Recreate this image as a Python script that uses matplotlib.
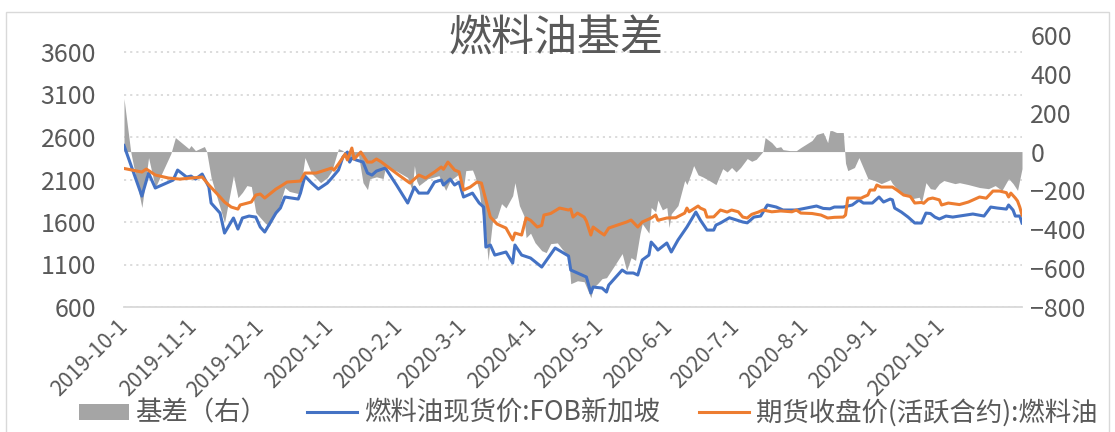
import matplotlib
matplotlib.use("Agg")
import matplotlib.pyplot as plt
from matplotlib.patches import Patch, Rectangle
from matplotlib.lines import Line2D
import pandas as pd

plt.rcParams['font.family'] = ['Noto Sans CJK SC', 'DejaVu Sans']

# ---- data ----
spot_dates = [
    "2019-10-01", "2019-10-09", "2019-10-12", "2019-10-15", "2019-10-23", "2019-10-25", "2019-10-29",
    "2019-10-31", "2019-11-02", "2019-11-05", "2019-11-08", "2019-11-09", "2019-11-13", "2019-11-15",
    "2019-11-19", "2019-11-21", "2019-11-23", "2019-11-26", "2019-11-29", "2019-12-01", "2019-12-03",
    "2019-12-08", "2019-12-10", "2019-12-12", "2019-12-15", "2019-12-18", "2019-12-19", "2019-12-21",
    "2019-12-24", "2019-12-27", "2019-12-31", "2020-01-02", "2020-01-05", "2020-01-07", "2020-01-09",
    "2020-01-10", "2020-01-11", "2020-01-13", "2020-01-16", "2020-01-18", "2020-01-20", "2020-01-22",
    "2020-01-26", "2020-01-31", "2020-02-05", "2020-02-08", "2020-02-10", "2020-02-14", "2020-02-17",
    "2020-02-20", "2020-02-21", "2020-02-24", "2020-02-26", "2020-02-28", "2020-03-01", "2020-03-05",
    "2020-03-06", "2020-03-08", "2020-03-10", "2020-03-11", "2020-03-13", "2020-03-15", "2020-03-20",
    "2020-03-23", "2020-03-24", "2020-03-27", "2020-03-31", "2020-04-05", "2020-04-11", "2020-04-14",
    "2020-04-17", "2020-04-18", "2020-04-21", "2020-04-25", "2020-04-27", "2020-04-28", "2020-05-02",
    "2020-05-04", "2020-05-05", "2020-05-11", "2020-05-13", "2020-05-16", "2020-05-18", "2020-05-20",
    "2020-05-23", "2020-05-24", "2020-05-26", "2020-05-27", "2020-05-31", "2020-06-02", "2020-06-05",
    "2020-06-09", "2020-06-13", "2020-06-15", "2020-06-18", "2020-06-21", "2020-06-22", "2020-06-24",
    "2020-06-27", "2020-06-28", "2020-07-04", "2020-07-06", "2020-07-09", "2020-07-12", "2020-07-15",
    "2020-07-19", "2020-07-22", "2020-07-28", "2020-08-06", "2020-08-09", "2020-08-12", "2020-08-14",
    "2020-08-18", "2020-08-22", "2020-08-25", "2020-08-27", "2020-08-31", "2020-09-03", "2020-09-05",
    "2020-09-08", "2020-09-09", "2020-09-10", "2020-09-13", "2020-09-16", "2020-09-19", "2020-09-22",
    "2020-09-24", "2020-09-26", "2020-09-28", "2020-09-30", "2020-10-03", "2020-10-06", "2020-10-09",
    "2020-10-15", "2020-10-20", "2020-10-23", "2020-10-26", "2020-10-30", "2020-10-31", "2020-11-02",
    "2020-11-03", "2020-11-05", "2020-11-06",
]
spot_values = [
    2500, 1905, 2176, 2000, 2093, 2211, 2129,
    2140, 2105, 2164, 2011, 1823, 1705, 1470,
    1647, 1517, 1647, 1670, 1658, 1541, 1482,
    1705, 1764, 1894, 1882, 1870, 1940, 2140,
    2058, 1987, 2058, 2117, 2211, 2364, 2423,
    2305, 2352, 2329, 2305, 2176, 2152, 2199,
    2235, 2035, 1823, 2011, 1940, 1940, 2070,
    2094, 2035, 2105, 2035, 2070, 1894, 1940,
    1900, 1823, 1776, 1305, 1329, 1211, 1247,
    1117, 1329, 1211, 1176, 1070, 1294, 1247,
    1200, 1035, 1000, 953, 765, 835, 823,
    776, 858, 1035, 1000, 1000, 976, 1153,
    1211, 1364, 1305, 1270, 1353, 1247, 1388,
    1541, 1717, 1623, 1505, 1505, 1564, 1588,
    1635, 1650, 1600, 1590, 1658, 1670, 1800,
    1776, 1741, 1741, 1788, 1760, 1755, 1776,
    1776, 1800, 1858, 1823, 1823, 1894, 1835,
    1870, 1860, 1764, 1717, 1658, 1588, 1588,
    1705, 1700, 1658, 1635, 1670, 1658, 1670,
    1694, 1670, 1776, 1764, 1752, 1800, 1740,
    1670, 1670, 1588,
]

futures_dates = [
    "2019-10-01", "2019-10-09", "2019-10-11", "2019-10-15", "2019-10-21", "2019-10-26", "2019-11-05",
    "2019-11-08", "2019-11-13", "2019-11-15", "2019-11-18", "2019-11-21", "2019-11-22", "2019-11-27",
    "2019-11-29", "2019-12-01", "2019-12-03", "2019-12-08", "2019-12-11", "2019-12-13", "2019-12-19",
    "2019-12-21", "2019-12-26", "2020-01-02", "2020-01-03", "2020-01-05", "2020-01-08", "2020-01-09",
    "2020-01-11", "2020-01-12", "2020-01-15", "2020-01-18", "2020-01-20", "2020-01-22", "2020-01-24",
    "2020-01-26", "2020-02-01", "2020-02-06", "2020-02-10", "2020-02-13", "2020-02-17", "2020-02-20",
    "2020-02-21", "2020-02-23", "2020-02-26", "2020-02-28", "2020-03-01", "2020-03-04", "2020-03-07",
    "2020-03-09", "2020-03-11", "2020-03-13", "2020-03-16", "2020-03-20", "2020-03-23", "2020-03-24",
    "2020-03-27", "2020-03-29", "2020-03-31", "2020-04-03", "2020-04-05", "2020-04-06", "2020-04-09",
    "2020-04-13", "2020-04-17", "2020-04-18", "2020-04-19", "2020-04-21", "2020-04-24", "2020-04-25",
    "2020-04-27", "2020-04-28", "2020-05-01", "2020-05-03", "2020-05-05", "2020-05-13", "2020-05-15",
    "2020-05-18", "2020-05-20", "2020-05-24", "2020-05-26", "2020-05-27", "2020-05-31", "2020-06-04",
    "2020-06-08", "2020-06-09", "2020-06-10", "2020-06-14", "2020-06-15", "2020-06-17", "2020-06-18",
    "2020-06-21", "2020-06-24", "2020-06-27", "2020-06-29", "2020-07-02", "2020-07-04", "2020-07-06",
    "2020-07-08", "2020-07-11", "2020-07-13", "2020-07-17", "2020-07-21", "2020-07-26", "2020-07-28",
    "2020-07-30", "2020-08-04", "2020-08-08", "2020-08-11", "2020-08-14", "2020-08-18", "2020-08-19",
    "2020-08-20", "2020-08-23", "2020-08-26", "2020-08-27", "2020-08-29", "2020-08-30", "2020-09-01",
    "2020-09-02", "2020-09-04", "2020-09-09", "2020-09-11", "2020-09-14", "2020-09-17", "2020-09-19",
    "2020-09-22", "2020-09-23", "2020-09-25", "2020-09-27", "2020-09-30", "2020-10-01", "2020-10-04",
    "2020-10-09", "2020-10-13", "2020-10-18", "2020-10-21", "2020-10-24", "2020-10-27", "2020-10-30",
    "2020-10-31", "2020-11-01", "2020-11-03", "2020-11-04", "2020-11-05", "2020-11-06",
]
futures_values = [
    2230, 2188, 2223, 2153, 2117, 2105, 2129,
    2035, 1894, 1835, 1776, 1752, 1800, 1835,
    1917, 1929, 1882, 1987, 2035, 2070, 2082,
    2176, 2176, 2235, 2210, 2282, 2399, 2330,
    2470, 2341, 2423, 2305, 2305, 2341, 2310,
    2270, 2152, 2058, 2152, 2117, 2188, 2247,
    2220, 2305, 2211, 2190, 1976, 2011, 2070,
    2058, 1858, 1658, 1576, 1529, 1388, 1470,
    1447, 1647, 1620, 1541, 1560, 1682, 1700,
    1764, 1741, 1752, 1658, 1705, 1658, 1610,
    1447, 1541, 1482, 1447, 1529, 1600, 1623,
    1541, 1600, 1647, 1682, 1620, 1647, 1650,
    1705, 1764, 1720, 1788, 1764, 1741, 1658,
    1660, 1741, 1717, 1741, 1720, 1658, 1647,
    1690, 1717, 1741, 1720, 1730, 1720, 1741,
    1705, 1700, 1682, 1647, 1655, 1658, 1682,
    1882, 1882, 1880, 1894, 1917, 1976, 1976,
    2035, 2011, 2011, 1976, 1917, 1900, 1823,
    1830, 1820, 1870, 1882, 1860, 1800, 1823,
    1805, 1835, 1894, 1880, 1964, 1964, 1945,
    1894, 1940, 1882, 1847, 1776, 1682,
]

basis_dates = [
    "2019-10-01", "2019-10-04", "2019-10-09", "2019-10-12", "2019-10-15", "2019-10-22", "2019-10-24",
    "2019-10-30", "2019-10-31", "2019-11-02", "2019-11-06", "2019-11-07", "2019-11-09", "2019-11-15",
    "2019-11-19", "2019-11-21", "2019-11-23", "2019-11-25", "2019-11-27", "2019-11-29", "2019-12-03",
    "2019-12-05", "2019-12-07", "2019-12-09", "2019-12-12", "2019-12-14", "2019-12-18", "2019-12-19",
    "2019-12-21", "2019-12-24", "2019-12-28", "2019-12-31", "2020-01-02", "2020-01-05", "2020-01-07",
    "2020-01-09", "2020-01-11", "2020-01-14", "2020-01-16", "2020-01-18", "2020-01-19", "2020-01-22",
    "2020-01-25", "2020-01-26", "2020-01-31", "2020-02-05", "2020-02-07", "2020-02-08", "2020-02-09",
    "2020-02-10", "2020-02-14", "2020-02-19", "2020-02-22", "2020-02-24", "2020-02-28", "2020-03-01",
    "2020-03-02", "2020-03-05", "2020-03-06", "2020-03-08", "2020-03-09", "2020-03-11", "2020-03-12",
    "2020-03-14", "2020-03-16", "2020-03-18", "2020-03-20", "2020-03-23", "2020-03-24", "2020-03-26",
    "2020-03-28", "2020-03-29", "2020-03-31", "2020-04-02", "2020-04-05", "2020-04-07", "2020-04-09",
    "2020-04-12", "2020-04-14", "2020-04-17", "2020-04-18", "2020-04-21", "2020-04-24", "2020-04-27",
    "2020-04-28", "2020-04-30", "2020-05-02", "2020-05-04", "2020-05-07", "2020-05-11", "2020-05-13",
    "2020-05-15", "2020-05-17", "2020-05-19", "2020-05-20", "2020-05-23", "2020-05-24", "2020-05-26",
    "2020-05-27", "2020-05-29", "2020-05-31", "2020-06-01", "2020-06-02", "2020-06-05", "2020-06-08",
    "2020-06-09", "2020-06-11", "2020-06-12", "2020-06-14", "2020-06-16", "2020-06-19", "2020-06-22",
    "2020-06-25", "2020-06-27", "2020-06-29", "2020-07-01", "2020-07-03", "2020-07-06", "2020-07-08",
    "2020-07-10", "2020-07-13", "2020-07-14", "2020-07-17", "2020-07-19", "2020-07-21", "2020-07-22",
    "2020-07-25", "2020-07-28", "2020-07-30", "2020-08-04", "2020-08-06", "2020-08-09", "2020-08-11",
    "2020-08-12", "2020-08-13", "2020-08-15", "2020-08-18", "2020-08-19", "2020-08-20", "2020-08-23",
    "2020-08-25", "2020-08-29", "2020-09-01", "2020-09-04", "2020-09-08", "2020-09-09", "2020-09-13",
    "2020-09-18", "2020-09-21", "2020-09-22", "2020-09-24", "2020-09-26", "2020-09-28", "2020-09-30",
    "2020-10-02", "2020-10-07", "2020-10-09", "2020-10-13", "2020-10-18", "2020-10-22", "2020-10-25",
    "2020-10-28", "2020-10-31", "2020-11-02", "2020-11-04", "2020-11-06",
]
basis_values = [
    273, 0, -288, -31, -185, -10, 72,
    15, 31, 5, 26, 0, -134, -366,
    -124, -237, -210, -175, -180, -314, -366,
    -385, -340, -300, -185, -205, -216, -190,
    -31, -113, -160, -134, -100, 15, 5,
    -46, -20, -20, -160, -196, -140, -130,
    -139, -82, -100, -134, -200, -72, -150,
    -175, -140, -124, -200, -150, -115, -185,
    -98, -95, -124, -200, -294, -433, -561,
    -355, -340, -268, -290, -227, -160, -278,
    -330, -443, -420, -469, -510, -520, -474,
    -470, -500, -540, -680, -665, -670, -752,
    -700, -680, -654, -649, -597, -525, -613,
    -546, -560, -422, -371, -420, -288, -310,
    -250, -300, -288, -391, -320, -278, -149,
    -170, -108, -72, -120, -130, -149, -170,
    -88, -105, -82, -105, -82, -36, -50,
    -40, 0, 72, 46, 20, 25, 10,
    5, 5, 21, 57, 88, 98, 46,
    108, 108, 98, 98, -60, -98, -82,
    -31, -139, -149, -165, -145, -165, -216,
    -242, -235, -263, -160, -191, -195, -165,
    -149, -165, -160, -170, -185, -191, -175,
    -200, -139, -165, -200, -88,
]

tick_months = ["2019-10-01", "2019-11-01", "2019-12-01", "2020-01-01", "2020-02-01", "2020-03-01",
               "2020-04-01", "2020-05-01", "2020-06-01", "2020-07-01", "2020-08-01", "2020-09-01",
               "2020-10-01"]

spot_x = pd.to_datetime(spot_dates)
fut_x = pd.to_datetime(futures_dates)
basis_x = pd.to_datetime(basis_dates)
ticks_x = pd.to_datetime(tick_months)

txt_color = "#595959"
W, H = 1115, 432
fig = plt.figure(figsize=(W / 100, H / 100), dpi=100)
fig.patches.append(Rectangle((6 / W, -0.1), (1109 - 6) / W, 1.1 - 12 / H, transform=fig.transFigure,
                             fill=False, edgecolor="#d9d9d9", linewidth=1.0))

ax = fig.add_axes([124 / W, 1 - 307 / H, (1022 - 124) / W, (307 - 35) / H])
ax_r = ax.twinx()
ax_l = ax.twinx()

# left axis: labels + gridlines (bottom layer)
ax.set_ylim(600, 3800)
ax.set_yticks([600, 1100, 1600, 2100, 2600, 3100, 3600])
ax.grid(True, axis="y", color="#d9d9d9", linestyle=(0, (1.2, 2.2)), linewidth=1.3)
ax.set_axisbelow(True)
ax.tick_params(axis="y", length=0, pad=20, labelsize=18, labelcolor=txt_color)
for s in ["top", "left", "right"]:
    ax.spines[s].set_visible(False)
ax.spines["bottom"].set_color("#d9d9d9")
ax.spines["bottom"].set_linewidth(1.3)

# right axis: basis area
ax_r.fill_between(basis_x, basis_values, 0, color="#a5a5a5", linewidth=0)
ax_r.set_ylim(-800, 600)
ax_r.set_yticks(range(-800, 601, 200))
ax_r.tick_params(axis="y", length=0, pad=6, labelsize=18, labelcolor=txt_color)
for s in ax_r.spines.values():
    s.set_visible(False)

# price lines on top
ax_l.plot(spot_x, spot_values, color="#4472c4", linewidth=2.2, solid_joinstyle="round")
ax_l.plot(fut_x, futures_values, color="#ed7d31", linewidth=2.2, solid_joinstyle="round")
ax_l.set_ylim(600, 3800)
ax_l.set_yticks([])
for s in ax_l.spines.values():
    s.set_visible(False)

ax.set_xlim(pd.Timestamp("2019-10-01"), pd.Timestamp("2020-11-06"))
ax.set_xticks(ticks_x)
ax.set_xticklabels([f"{d.year}-{d.month}-{d.day}" for d in ticks_x], rotation=45, ha="right",
                   va="center", rotation_mode="anchor", fontsize=15.5, color=txt_color)
ax.tick_params(axis="x", length=0, pad=12)

fig.text(556 / W, 1 - 40 / H, "燃料油基差", ha="center", va="center", fontsize=31, color=txt_color)

handles = [
    Patch(facecolor="#a5a5a5", edgecolor="none"),
    Line2D([], [], color="#4472c4", linewidth=2.2),
    Line2D([], [], color="#ed7d31", linewidth=2.2),
]
labels = ["基差（右）", "燃料油现货价:FOB新加坡", "期货收盘价(活跃合约):燃料油"]
leg = fig.legend(handles, labels, loc="center", bbox_to_anchor=(588 / W, 1 - 413 / H), ncol=3,
                 frameon=False, fontsize=19, handlelength=1.9, handleheight=0.55, handletextpad=0.25,
                 columnspacing=1.5, labelcolor=txt_color, borderpad=0.1)

fig.savefig("out.png", dpi=100)
